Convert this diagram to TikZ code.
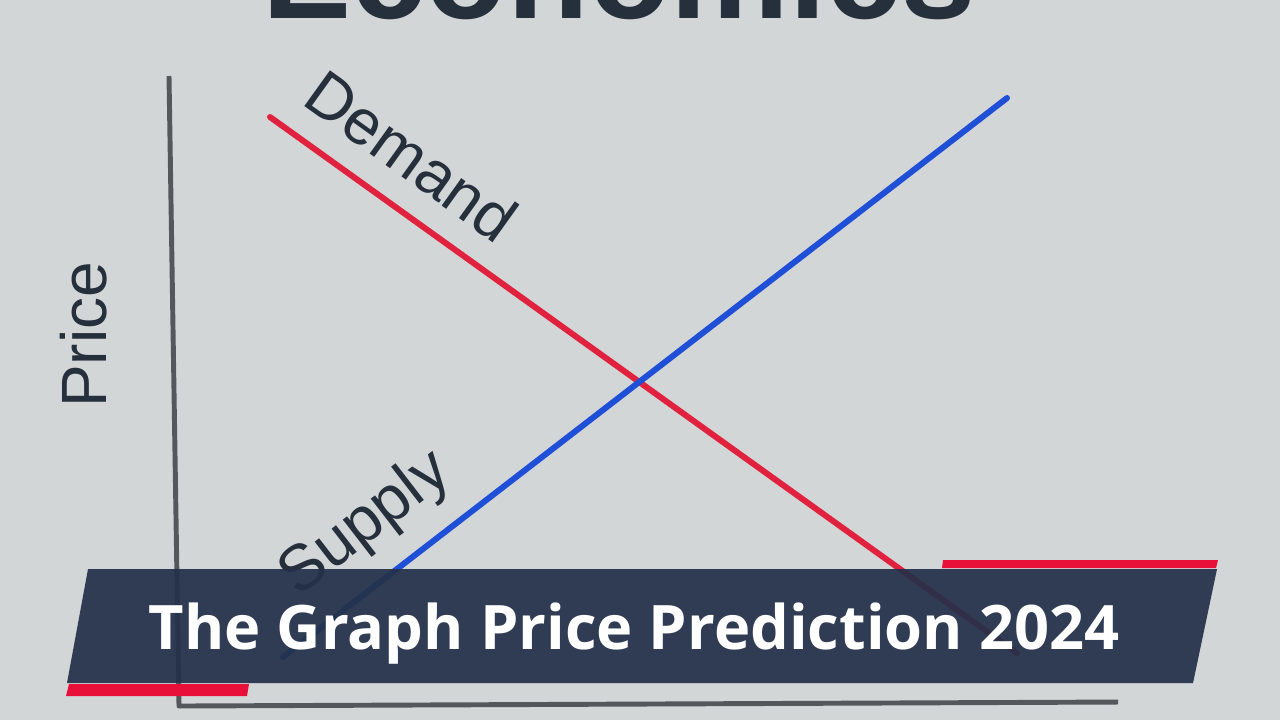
\documentclass[tikz,border=0pt]{standalone}
\usepackage{fontspec}
\setmainfont{Liberation Sans}
\newfontfamily\bannerfont{Open Sans}
\usetikzlibrary{positioning}
\definecolor{screen}{HTML}{D3D6D7}
\definecolor{ink}{HTML}{26303C}
\definecolor{axisgray}{HTML}{54585B}
\definecolor{demandred}{HTML}{E0223F}
\definecolor{supplyblue}{HTML}{1F4FD6}
\definecolor{bannernavy}{HTML}{243149}
\definecolor{accentred}{HTML}{E81038}
\tikzset{axisline/.style={axisgray, line width=1.4pt}}
\tikzset{curve/.style={line width=1.7pt, line cap=round}}
\tikzset{curvelabel/.style={ink, font=\fontsize{18.2}{18.2}\selectfont, inner sep=2pt}}
\tikzset{accent/.style={fill=accentred}}

\begin{document}
\begin{tikzpicture}[x=0.01cm, y=-0.01cm, line join = round]

\fill[screen] (0,0) rectangle (1280,720);
\useasboundingbox (0,0) rectangle (1280,720);

\begin{scope}
    \clip (0,0) rectangle (1280,720);
    \node[anchor=base, ink, inner sep=0pt, font=\bfseries\fontsize{38}{38}\selectfont] (heading) at (619,18) {Economics};
\end{scope}

% axes
\coordinate (ytop) at (169,76);
\coordinate (origin) at (179,706);
\coordinate (xend) at (1118,702);
\draw[axisline] (ytop) -- (origin) -- (xend);
\node[curvelabel, rotate=90, anchor=center] (price) at (84,335) {Price};

% curves
\coordinate (dstart) at (270,117);
\coordinate (dend) at (1017,653);
\coordinate (sstart) at (283,657);
\coordinate (send) at (1007,98);
\draw[curve, demandred] (dstart) -- node[pos = 0.15, sloped, above = 5pt, curvelabel] (demand) {Demand} (dend);
\draw[curve, supplyblue] (sstart) -- node[pos = 0.16, sloped, above = 4pt, curvelabel] (supply) {Supply} (send);

% banner
\fill[bannernavy, fill opacity=0.93] (88,569) -- (1217,569) -- (1193,683) -- (67,683) -- cycle;
\fill[accent] (943,560) -- (1218,560) -- (1216,568) -- (942,568) -- cycle;
\fill[accent] (69,684) -- (249,684) -- (247,696) -- (66,696) -- cycle;
\node[anchor=base, white, inner sep=0pt, font=\bannerfont\bfseries\fontsize{17.45}{17.45}\selectfont] (caption) at (634,649) {The Graph Price Prediction 2024};

\end{tikzpicture}
\end{document}
